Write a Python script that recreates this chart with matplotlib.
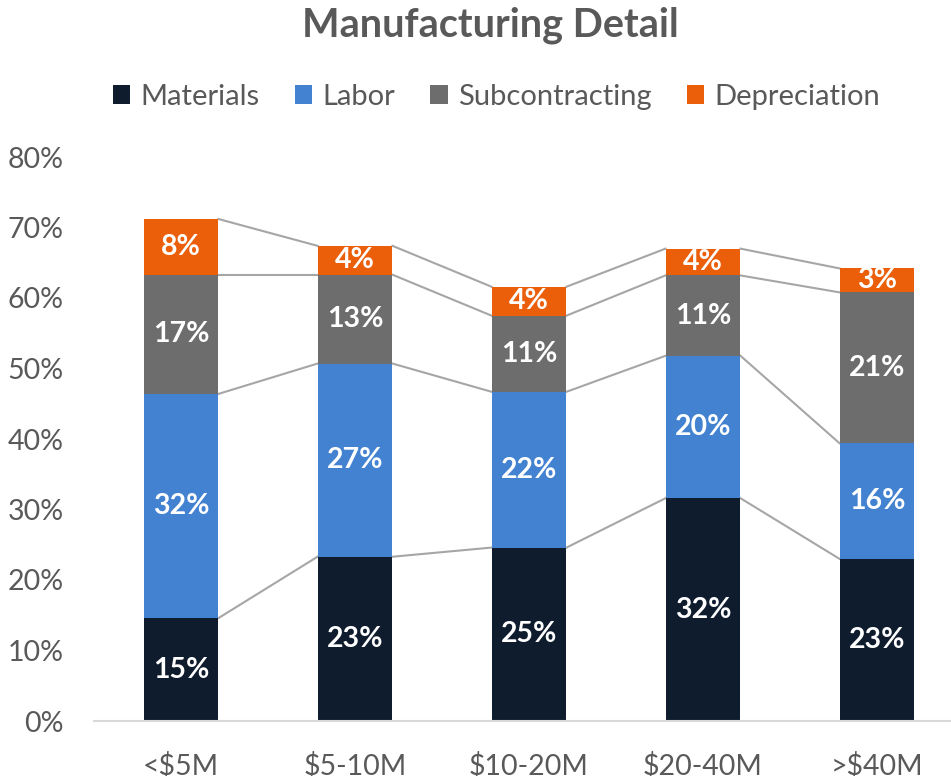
import matplotlib
matplotlib.use("Agg")
import matplotlib.pyplot as plt
from matplotlib.patches import Patch
import numpy as np

plt.rcParams["font.family"] = ["Lato", "DejaVu Sans"]

categories = ["<$5M", "$5-10M", "$10-20M", "$20-40M", ">$40M"]
series = ["Materials", "Labor", "Subcontracting", "Depreciation"]
materials = [14.6, 23.3, 24.6, 31.6, 23.0]
labor = [31.8, 27.4, 22.1, 20.2, 16.4]
subcontracting = [16.9, 12.6, 10.8, 11.4, 21.4]
depreciation = [7.9, 4.1, 4.1, 3.8, 3.4]

colors = ["#0F1C2E", "#4282D1", "#6D6D6D", "#EB5F0A"]
text_gray = "#595959"

fig = plt.figure(figsize=(9.51, 7.76), dpi=100)
ax = fig.add_axes([94 / 951, 55 / 776, 870 / 951, 564 / 776])

x = np.arange(len(categories))
width = 0.431
bottom = np.zeros(len(categories))
tops = []
for vals, name, col in zip([materials, labor, subcontracting, depreciation], series, colors):
    vals = np.array(vals)
    ax.bar(x, vals, width, bottom=bottom, color=col, label=name, zorder=2)
    for xi, b, v in zip(x, bottom, vals):
        ax.text(xi, b + v / 2, f"{v:.0f}%", ha="center", va="center",
                color="white", fontsize=20.5, fontweight="bold", zorder=3)
    bottom = bottom + vals
    tops.append(bottom.copy())

# series lines between bars
for t in tops:
    for i in range(len(categories) - 1):
        ax.plot([x[i] + width / 2, x[i + 1] - width / 2], [t[i], t[i + 1]],
                color="#A6A6A6", lw=1.5, zorder=1)

ax.set_xlim(-0.5, 4.5)
ax.set_ylim(0, 80)
ax.set_yticks(np.arange(0, 81, 10))
ax.set_yticklabels([f"{v}%" for v in range(0, 81, 10)])
ax.set_xticks(x)
ax.set_xticklabels(categories)
ax.tick_params(length=0, labelsize=20.5, colors=text_gray)
ax.tick_params(axis="y", pad=22)
ax.tick_params(axis="x", pad=22)
for s in ["top", "right", "left"]:
    ax.spines[s].set_visible(False)
ax.spines["bottom"].set_color("#D9D9D9")
ax.spines["bottom"].set_linewidth(1.5)

fig.text(0.516, 0.968, "Manufacturing Detail", ha="center", va="center",
         fontsize=28.5, fontweight="bold", color=text_gray)

handles = [Patch(facecolor=c, label=n) for c, n in zip(colors, series)]
fig.legend(handles=handles, loc="center", bbox_to_anchor=(0.522, 0.875), ncol=4,
           frameon=False, fontsize=21, labelcolor=text_gray,
           handlelength=0.6, handleheight=0.6, handletextpad=0.35,
           columnspacing=1.2)

fig.savefig("out.png", dpi=100)
